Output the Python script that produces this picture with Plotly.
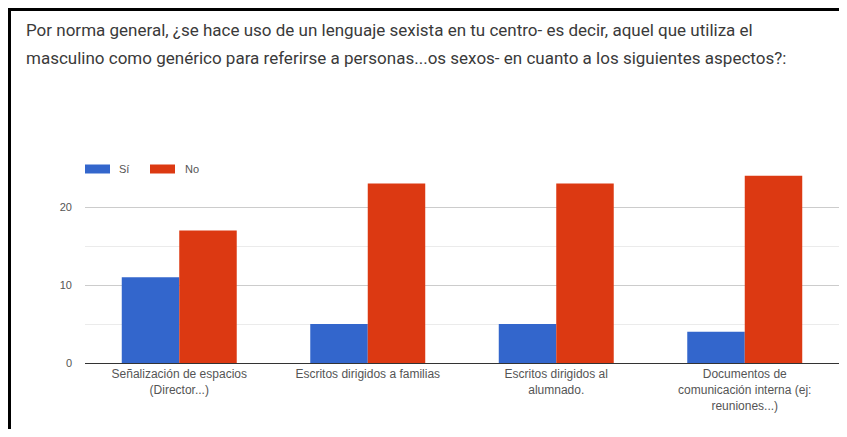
import plotly.graph_objects as go

categories = [
    "Señalización de espacios<br>(Director...)",
    "Escritos dirigidos a familias",
    "Escritos dirigidos al<br>alumnado.",
    "Documentos de<br>comunicación interna (ej:<br>reuniones...)",
]
si_values = [11, 5, 5, 4]
no_values = [17, 23, 23, 24]
series_names = ["Sí", "No"]
series_colors = ["#3366cc", "#dc3912"]
y_ticks = [0, 10, 20]
title_lines = [
    "Por norma general, ¿se hace uso de un lenguaje sexista en tu centro- es decir, aquel que utiliza el",
    "masculino como genérico para referirse a personas...os sexos- en cuanto a los siguientes aspectos?:",
]

# The page body has an 8px default margin; size the figure so it fills the window exactly.
OFF = 8
W, H = 847 - 2 * OFF, 437 - 2 * OFF
ML, MR, MT, MB = 77, 0, 160, 66
pw = W - ML - MR
ph = H - MT - MB


def px_x(x):
    return (x - OFF - ML) / pw


def px_y(y):
    return (H + OFF - MB - y) / ph


fig = go.Figure()
for name, vals, col in zip(series_names, [si_values, no_values], series_colors):
    fig.add_trace(go.Bar(x=categories, y=vals, name=name,
                         marker=dict(color=col, line=dict(width=0))))

annotations = []
for i, line in enumerate(title_lines):
    annotations.append(dict(
        text=line, xref="paper", yref="paper",
        x=px_x(24), y=px_y(30 + 28 * i), xanchor="left", yanchor="middle",
        showarrow=False, font=dict(family="Roboto", size=17, color="#3a3a3a"),
    ))

shapes = [
    dict(type="line", xref="paper", yref="paper",
         x0=px_x(8), x1=px_x(OFF + W), y0=px_y(9.5), y1=px_y(9.5),
         line=dict(color="black", width=3)),
    dict(type="line", xref="paper", yref="paper",
         x0=px_x(9.5), x1=px_x(9.5), y0=px_y(8), y1=px_y(OFF + H),
         line=dict(color="black", width=3)),
]

# custom legend (wide swatches as in the original)
legend_items = [(85, 117), (150, 183)]
for (sx, tx), name, col in zip(legend_items, series_names, series_colors):
    shapes.append(dict(type="rect", xref="paper", yref="paper",
                       x0=px_x(sx), x1=px_x(sx + 25), y0=px_y(164.5), y1=px_y(173.5),
                       fillcolor=col, line=dict(width=0)))
    annotations.append(dict(text=name, xref="paper", yref="paper",
                            x=px_x(tx), y=px_y(169), xanchor="left", yanchor="middle",
                            showarrow=False,
                            font=dict(family="Liberation Sans, Arial", size=11, color="#555555")))

fig.update_layout(
    width=W, height=H,
    margin=dict(l=ML, r=MR, t=MT, b=MB, pad=0),
    paper_bgcolor="white", plot_bgcolor="white",
    barmode="group", bargap=0.39, bargroupgap=0.0,
    font=dict(family="Liberation Sans, Arial", size=11, color="#555555"),
    showlegend=False,
    annotations=annotations,
    shapes=shapes,
    xaxis=dict(showgrid=False, showline=True, linecolor="#333333", linewidth=1,
               ticks="", tickfont=dict(size=12, color="#555555"), fixedrange=True),
    yaxis=dict(range=[0, 25], tickvals=y_ticks, showgrid=True, gridcolor="#cccccc",
               gridwidth=1, zeroline=False, showline=False, ticks="",
               tickfont=dict(size=11, color="#555555"), ticklabelstandoff=12,
               minor=dict(dtick=5, showgrid=True, gridcolor="#ebebeb", gridwidth=1)),
)

fig.write_html(
    "out.html",
    post_script="document.documentElement.style.overflow='hidden';document.body.style.overflow='hidden';",
)
